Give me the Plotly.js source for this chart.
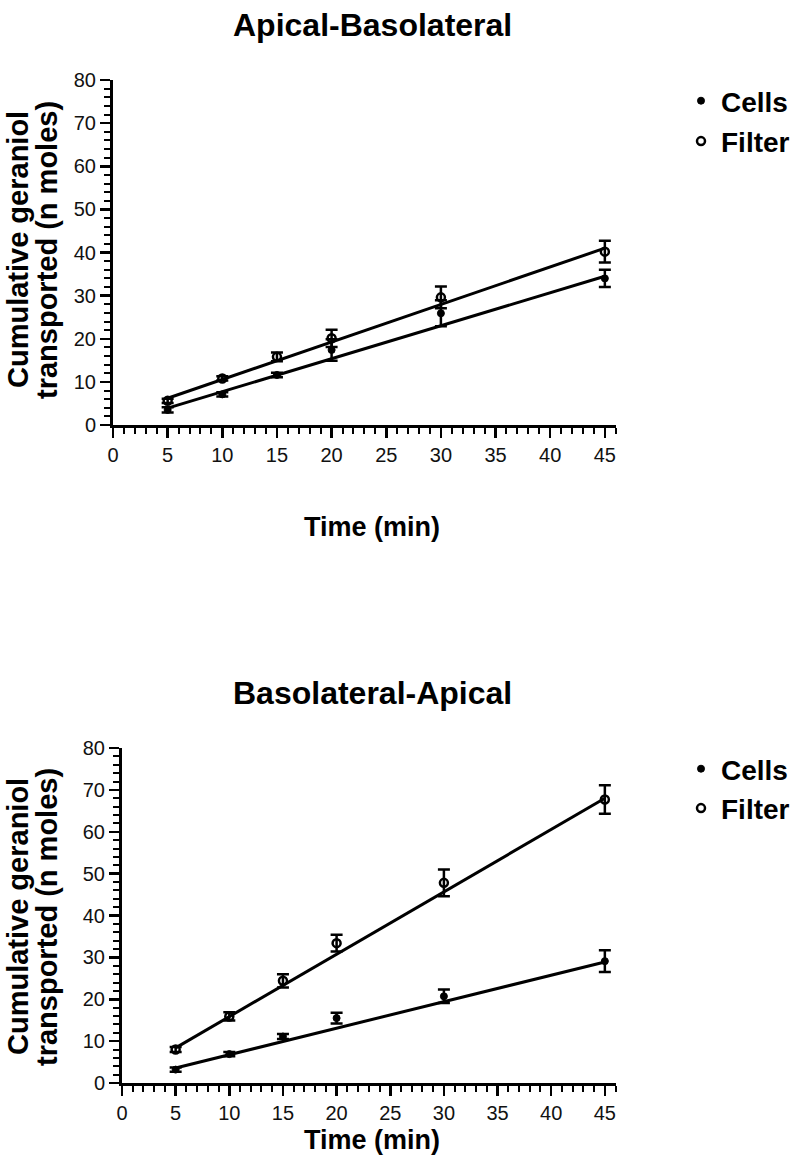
<!DOCTYPE html>
<html>
<head>
<meta charset="utf-8">
<script src="https://cdn.plot.ly/plotly-3.0.1.min.js"></script>
<style>html,body{margin:0;padding:0;background:#fff;}#chart{width:800px;height:1173px;}</style>
</head>
<body>
<div id="chart"></div>
<script>
// Time points (min)
const time = [5, 10, 15, 20, 30, 45];

// Apical-Basolateral
const abCells = [3.5, 7.1, 11.6, 17.4, 25.9, 34.0];
const abCellsErr = [0.6, 0.5, 0.5, 2.5, 3.0, 2.0];
const abFilter = [5.6, 10.8, 15.8, 20.1, 29.6, 40.2];
const abFilterErr = [0.5, 0.5, 1.0, 2.0, 2.5, 2.5];
const abCellsFit = [3.9, 34.5];
const abFilterFit = [6.2, 41.0];

// Basolateral-Apical
const baCells = [3.2, 6.9, 11.1, 15.5, 20.7, 29.1];
const baCellsErr = [0.5, 0.5, 0.6, 1.3, 1.6, 2.6];
const baFilter = [8.0, 15.9, 24.4, 33.4, 47.8, 67.7];
const baFilterErr = [0.6, 1.0, 1.6, 2.0, 3.2, 3.4];
const baCellsFit = [3.6, 28.9];
const baFilterFit = [8.4, 68.0];

const fitX = [5, 45];
const seriesNames = ['Cells', 'Filter'];
const xTicks = [0, 5, 10, 15, 20, 25, 30, 35, 40, 45];
const yTicks = [0, 10, 20, 30, 40, 50, 60, 70, 80];

const FONT = 'Liberation Sans, Arial, sans-serif';

function pts(y, err, name, filled, xa, ya, legend) {
  return {
    x: time, y: y, type: 'scatter', mode: 'markers', name: '<b>' + name + '</b>',
    xaxis: xa, yaxis: ya, legend: legend, legendgroup: legend + name,
    marker: filled
      ? {symbol: 'circle', size: 7, color: 'black', line: {color: 'black', width: 1}}
      : {symbol: 'circle-open', size: 8, color: 'black', line: {color: 'black', width: 2.5}},
    error_y: {type: 'data', array: err, visible: true, color: 'black', thickness: 2.5, width: 6},
    cliponaxis: false
  };
}
function fit(y, xa, ya) {
  return {x: fitX, y: y, type: 'scatter', mode: 'lines', xaxis: xa, yaxis: ya,
    line: {color: 'black', width: 3}, showlegend: false, hoverinfo: 'skip'};
}

const data = [
  fit(abCellsFit, 'x', 'y'), fit(abFilterFit, 'x', 'y'),
  pts(abCells, abCellsErr, seriesNames[0], true, 'x', 'y', 'legend'),
  pts(abFilter, abFilterErr, seriesNames[1], false, 'x', 'y', 'legend'),
  fit(baCellsFit, 'x2', 'y2'), fit(baFilterFit, 'x2', 'y2'),
  pts(baCells, baCellsErr, seriesNames[0], true, 'x2', 'y2', 'legend2'),
  pts(baFilter, baFilterErr, seriesNames[1], false, 'x2', 'y2', 'legend2')
];

const H = 1173, W = 800;
function xax(left, pxPerUnit) {
  return {
    domain: [left / W, (left + 46 * pxPerUnit) / W], range: [0, 46],
    tickvals: xTicks,
    ticks: 'outside', ticklen: 10, tickwidth: 2.5, tickcolor: 'black',
    minor: {dtick: 1, tick0: 0, ticks: 'outside', ticklen: 6, tickwidth: 2, tickcolor: 'black'},
    showline: true, linecolor: 'black', linewidth: 3, showgrid: false, zeroline: false,
    tickfont: {family: FONT, size: 20, color: '#111'}, fixedrange: true
  };
}
function yax(topPx, botPx, anchor) {
  return {
    domain: [1 - botPx / H, 1 - topPx / H], range: [0, 80], anchor: anchor,
    tickvals: yTicks,
    ticks: 'outside', ticklen: 10, tickwidth: 2.5, tickcolor: 'black',
    minor: {dtick: 2, tick0: 0, ticks: 'outside', ticklen: 6, tickwidth: 2, tickcolor: 'black'},
    showline: true, linecolor: 'black', linewidth: 3, showgrid: false, zeroline: false,
    tickfont: {family: FONT, size: 20, color: '#111'}, fixedrange: true
  };
}

const xa1 = xax(113, 10.93); xa1.anchor = 'y';
const xa2 = xax(122, 10.73); xa2.anchor = 'y2';

function ann(text, x, y, size, angle) {
  return {text: '<b>' + text + '</b>', x: x / W, y: 1 - y / H, xref: 'paper', yref: 'paper',
    showarrow: false, textangle: angle || 0, font: {family: FONT, size: size, color: 'black'},
    xanchor: 'center', yanchor: 'middle'};
}

const layout = {
  width: W, height: H, margin: {l: 0, r: 0, t: 0, b: 0},
  paper_bgcolor: 'white', plot_bgcolor: 'white',
  xaxis: xa1, yaxis: yax(80, 425, 'x'),
  xaxis2: xa2, yaxis2: yax(748, 1083, 'x2'),
  legend: {x: 681 / W, y: 1 - 76 / H, xanchor: 'left', yanchor: 'top', tracegroupgap: 1,
    font: {family: FONT, size: 28, color: 'black'}, bgcolor: 'rgba(0,0,0,0)'},
  legend2: {x: 681 / W, y: 1 - 744 / H, xanchor: 'left', yanchor: 'top', tracegroupgap: 0,
    font: {family: FONT, size: 28, color: 'black'}, bgcolor: 'rgba(0,0,0,0)'},
  annotations: [
    ann('Apical-Basolateral', 372, 25, 32),
    ann('Cumulative geraniol', 18, 250, 29, -90),
    ann('transported (n moles)', 47, 250, 29, -90),
    ann('Time (min)', 372, 527, 27),
    ann('Basolateral-Apical', 372, 693, 32),
    ann('Cumulative geraniol', 18, 917, 29, -90),
    ann('transported (n moles)', 47, 917, 29, -90),
    ann('Time (min)', 372, 1140, 27)
  ],
  showlegend: true
};

Plotly.newPlot('chart', data, layout, {displayModeBar: false, staticPlot: true});
</script>
</body>
</html>
